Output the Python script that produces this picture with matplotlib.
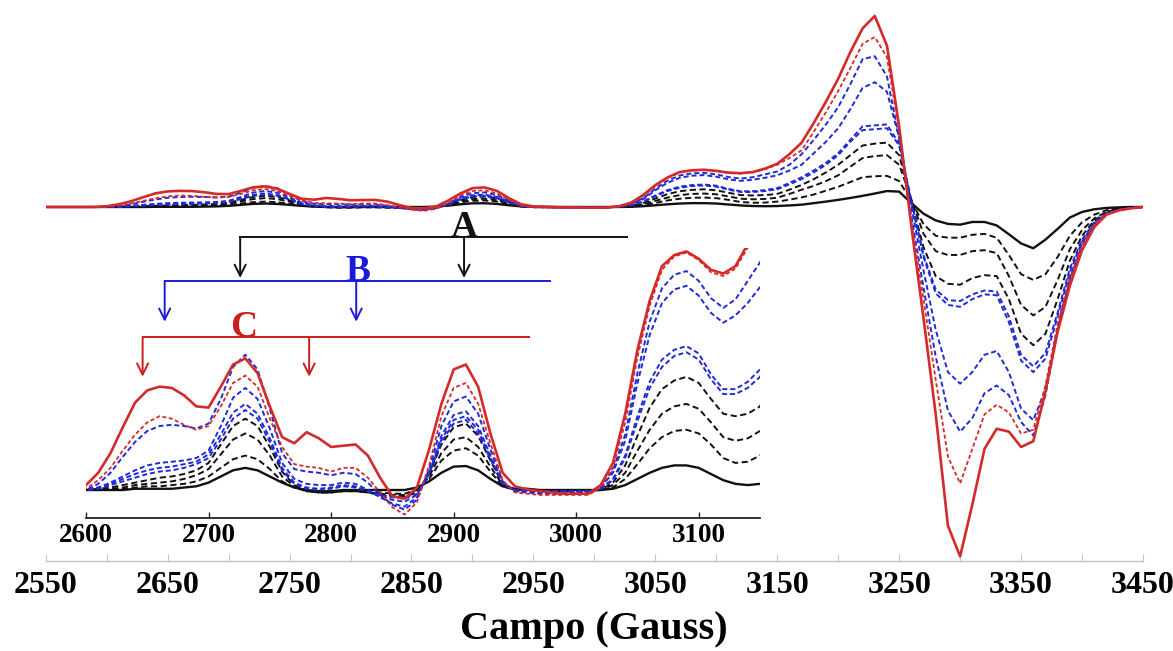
import numpy as np
import matplotlib
matplotlib.use("Agg")
import matplotlib.pyplot as plt

plt.rcParams["font.family"] = ["Liberation Serif", "DejaVu Serif"]
plt.rcParams["font.weight"] = "bold"

# ---------------- data (field in Gauss, intensity in arbitrary units) ----------------
field = np.arange(2550, 3451, 10)

# black solid (lowest)
k0 = [0, 0, 0, 0, 0,
      0, 0, 0, 0, 0.001, 0.001, 0.001, 0.001, 0.002, 0.003, 0.006,
      0.011, 0.016, 0.018, 0.016, 0.011,
      0.006, 0.002, 0.0, -0.001, -0.001, 0.0, 0.0, 0.0, 0.0, 0.0,
      0.0, 0.002, 0.007, 0.014, 0.019, 0.0195, 0.016, 0.009, 0.003, 0.001,
      0.001, 0, 0, 0, 0, 0, 0, 0.001,
      0.004, 0.009, 0.014, 0.018, 0.020, 0.020, 0.018, 0.013, 0.008, 0.005, 0.004, 0.005,
      0.008, 0.012, 0.02, 0.028, 0.037, 0.047, 0.058, 0.07, 0.083, 0.08,
      0.02, -0.035, -0.07, -0.088, -0.092, -0.078, -0.078, -0.096, -0.142, -0.19,
      -0.215, -0.17, -0.114, -0.055, -0.026, -0.012, -0.005, -0.002, 0, 0]

# black dashed
k1 = [0, 0, 0, 0, 0,
      0, 0, 0, 0.001, 0.002, 0.003, 0.003, 0.004, 0.005, 0.007, 0.011,
      0.018, 0.025, 0.028, 0.025, 0.017,
      0.007, 0.002, -0.001, -0.002, -0.002, -0.001, -0.001, -0.002, -0.002, -0.003,
      -0.003, 0.0, 0.009, 0.024, 0.032, 0.034, 0.028, 0.015, 0.003, 0.0,
      0, 0, 0, 0, 0, 0, 0, 0.002,
      0.009, 0.021, 0.034, 0.043, 0.048, 0.049, 0.046, 0.037, 0.026, 0.022, 0.023, 0.028,
      0.038, 0.05, 0.065, 0.085, 0.105, 0.13, 0.155, 0.16, 0.162, 0.135,
      0.03, -0.09, -0.15, -0.16, -0.16, -0.145, -0.14, -0.16, -0.25, -0.35,
      -0.38, -0.35, -0.26, -0.15, -0.08, -0.04, -0.017, -0.007, -0.003, 0]

k2 = [0, 0, 0, 0, 0,
      0, 0, 0.001, 0.002, 0.004, 0.005, 0.006, 0.007, 0.009, 0.012, 0.017,
      0.029, 0.041, 0.046, 0.041, 0.028,
      0.011, 0.003, -0.001, -0.002, -0.002, -0.001, -0.001, -0.002, -0.003, -0.004,
      -0.004, -0.001, 0.011, 0.030, 0.041, 0.043, 0.035, 0.019, 0.004, 0.0,
      0, 0, 0, 0, 0, 0, 0, 0.004,
      0.014, 0.032, 0.049, 0.062, 0.068, 0.070, 0.066, 0.055, 0.043, 0.040, 0.042, 0.048,
      0.068, 0.09, 0.11, 0.135, 0.165, 0.21, 0.255, 0.265, 0.27, 0.22,
      0.04, -0.14, -0.23, -0.25, -0.25, -0.23, -0.225, -0.24, -0.36, -0.51,
      -0.565, -0.52, -0.38, -0.22, -0.12, -0.06, -0.025, -0.01, -0.004, 0]

k3 = [0, 0, 0, 0, 0,
      0, 0.001, 0.002, 0.004, 0.006, 0.008, 0.010, 0.011, 0.013, 0.016, 0.022,
      0.037, 0.052, 0.058, 0.052, 0.035,
      0.015, 0.004, 0.0, -0.002, -0.002, 0.0, 0.0, -0.002, -0.004, -0.005,
      -0.0055, -0.002, 0.013, 0.037, 0.051, 0.054, 0.044, 0.024, 0.005, 0.0,
      0, -0.001, -0.001, -0.001, -0.001, -0.001, 0, 0.006,
      0.020, 0.044, 0.067, 0.082, 0.089, 0.092, 0.087, 0.074, 0.062, 0.060, 0.062, 0.068,
      0.09, 0.115, 0.145, 0.18, 0.22, 0.27, 0.32, 0.33, 0.335, 0.27,
      0.03, -0.21, -0.36, -0.40, -0.405, -0.37, -0.355, -0.36, -0.48, -0.66,
      -0.72, -0.66, -0.48, -0.28, -0.15, -0.07, -0.03, -0.012, -0.005, 0]

# blue dashed
b1 = [0, 0, 0, 0, 0,
      0, 0.001, 0.004, 0.007, 0.010, 0.013, 0.015, 0.016, 0.018, 0.021, 0.026,
      0.041, 0.058, 0.065, 0.058, 0.039,
      0.016, 0.005, 0.001, 0.0, 0.001, 0.003, 0.002, -0.001, -0.004, -0.006,
      -0.007, -0.003, 0.013, 0.039, 0.054, 0.057, 0.046, 0.025, 0.005, 0.0,
      0, -0.001, -0.001, -0.001, -0.001, -0.001, 0.001, 0.008,
      0.026, 0.056, 0.083, 0.100, 0.109, 0.112, 0.106, 0.090, 0.078, 0.078, 0.083, 0.092,
      0.118, 0.145, 0.18, 0.22, 0.27, 0.34, 0.40, 0.405, 0.41, 0.32,
      0.03, -0.25, -0.43, -0.485, -0.49, -0.455, -0.435, -0.44, -0.57, -0.77,
      -0.83, -0.76, -0.55, -0.32, -0.17, -0.08, -0.033, -0.014, -0.005, 0]

b2 = [0, 0, 0, 0, 0,
      0, 0.002, 0.005, 0.009, 0.013, 0.016, 0.018, 0.019, 0.021, 0.023, 0.029,
      0.045, 0.063, 0.070, 0.062, 0.042,
      0.018, 0.006, 0.002, 0.001, 0.002, 0.004, 0.003, -0.001, -0.005, -0.008,
      -0.0095, -0.004, 0.014, 0.041, 0.057, 0.060, 0.049, 0.026, 0.005, 0.0,
      0, -0.001, -0.001, -0.001, -0.001, -0.001, 0.001, 0.009,
      0.028, 0.060, 0.088, 0.106, 0.114, 0.117, 0.111, 0.094, 0.082, 0.082, 0.088, 0.098,
      0.125, 0.155, 0.19, 0.23, 0.28, 0.35, 0.42, 0.425, 0.43, 0.33,
      0.03, -0.26, -0.45, -0.51, -0.52, -0.48, -0.455, -0.46, -0.60, -0.80,
      -0.86, -0.79, -0.57, -0.34, -0.18, -0.085, -0.035, -0.015, -0.006, 0]

b3 = [0, 0, 0, 0, 0,
      0, 0.002, 0.006, 0.011, 0.016, 0.020, 0.022, 0.023, 0.024, 0.026, 0.032,
      0.052, 0.075, 0.083, 0.074, 0.050,
      0.022, 0.009, 0.005, 0.004, 0.004, 0.006, 0.005, 0.0, -0.006, -0.011,
      -0.0135, -0.006, 0.014, 0.044, 0.061, 0.064, 0.052, 0.028, 0.006, -0.001,
      -0.001, -0.002, -0.002, -0.002, -0.002, -0.002, 0.002, 0.014,
      0.040, 0.087, 0.126, 0.152, 0.163, 0.166, 0.158, 0.144, 0.136, 0.142, 0.152, 0.165,
      0.19, 0.22, 0.28, 0.34, 0.41, 0.51, 0.62, 0.65, 0.60, 0.36,
      0.0, -0.33, -0.64, -0.86, -0.92, -0.86, -0.77, -0.75, -0.86, -1.05,
      -1.11, -0.95, -0.63, -0.37, -0.19, -0.088, -0.037, -0.016, -0.006, 0]

b4 = [0, 0, 0, 0, 0,
      0, 0.005, 0.014, 0.027, 0.039, 0.048, 0.052, 0.053, 0.052, 0.050, 0.054,
      0.074, 0.100, 0.110, 0.098, 0.066,
      0.030, 0.017, 0.015, 0.014, 0.012, 0.014, 0.013, 0.006, -0.004, -0.012,
      -0.016, -0.008, 0.017, 0.052, 0.072, 0.076, 0.062, 0.033, 0.007, -0.001,
      -0.002, -0.003, -0.003, -0.003, -0.003, -0.003, 0.002, 0.016,
      0.045, 0.095, 0.137, 0.164, 0.175, 0.178, 0.170, 0.156, 0.148, 0.155, 0.170, 0.185,
      0.22, 0.275, 0.35, 0.43, 0.52, 0.64, 0.77, 0.785, 0.68, 0.36,
      -0.05, -0.42, -0.78, -1.06, -1.17, -1.10, -0.97, -0.93, -0.98, -1.12,
      -1.19, -0.98, -0.64, -0.38, -0.20, -0.09, -0.038, -0.016, -0.006, 0]

# red dashed
r1 = [0, 0, 0, 0, 0,
      0.001, 0.008, 0.018, 0.032, 0.045, 0.055, 0.060, 0.058, 0.053, 0.049, 0.052,
      0.068, 0.087, 0.093, 0.084, 0.058,
      0.035, 0.021, 0.019, 0.018, 0.015, 0.018, 0.018, 0.010, -0.002, -0.014,
      -0.020, -0.010, 0.020, 0.060, 0.083, 0.087, 0.070, 0.038, 0.008, -0.002,
      -0.003, -0.004, -0.004, -0.004, -0.004, -0.004, 0.002, 0.018,
      0.055, 0.108, 0.150, 0.179, 0.190, 0.193, 0.187, 0.177, 0.174, 0.180, 0.197, 0.22,
      0.255, 0.295, 0.392, 0.494, 0.604, 0.724, 0.85, 0.885, 0.78, 0.40,
      -0.08, -0.48, -0.90, -1.30, -1.44, -1.26, -1.08, -1.03, -1.07, -1.18,
      -1.16, -0.93, -0.61, -0.37, -0.20, -0.092, -0.037, -0.016, -0.006, 0]

# red solid (highest)
r2 = [0, 0, 0, 0, 0,
      0.004, 0.014, 0.030, 0.051, 0.071, 0.081, 0.084, 0.083, 0.077, 0.068, 0.067,
      0.084, 0.102, 0.107, 0.095, 0.068,
      0.043, 0.038, 0.047, 0.042, 0.035, 0.036, 0.037, 0.028, 0.010, -0.005,
      -0.007, 0.002, 0.033, 0.070, 0.098, 0.102, 0.084, 0.046, 0.014, 0.003,
      0.0005, -0.001, -0.002, -0.003, -0.003, -0.003, 0.004, 0.022,
      0.062, 0.114, 0.154, 0.182, 0.191, 0.194, 0.188, 0.179, 0.176, 0.182, 0.200, 0.225,
      0.275, 0.335, 0.438, 0.549, 0.668, 0.807, 0.93, 0.995, 0.84, 0.42,
      -0.10, -0.58, -1.08, -1.66, -1.82, -1.55, -1.26, -1.155, -1.17, -1.25,
      -1.22, -0.96, -0.65, -0.41, -0.225, -0.105, -0.04, -0.018, -0.007, 0]

main_ticks = list(range(2550, 3451, 50))
main_labels = [str(t) if (t - 2550) % 100 == 0 else "" for t in main_ticks]
inset_ticks = [2600, 2700, 2800, 2900, 3000, 3100]
inset_labels = ["2600", "2700", "2800", "2900", "3000", "3100"]

# bracket annotations (inset data coordinates)
bracket_names = ["A", "B", "C"]
bracket_start = [2725.8, 2664.2, 2646.2]
bracket_end = [3041.5, 2979.0, 2961.8]
bracket_level = [0.2057, 0.1699, 0.1246]
arrow_tip = [0.1724, 0.1368, 0.0921]
arrow_pos = [[2725.8, 2908.5], [2664.2, 2820.5], [2646.2, 2782.1]]
label_pos = [2908.7, 2822.0, 2728.6]

# ---------------- styles ----------------
BLACK = "#111111"
BLUE = "#1f2bd6"
RED = "#d42a2a"
series = [
    (k0, BLACK, None, 1.7),
    (k1, BLACK, (3.2, 1.8), 1.4),
    (k2, BLACK, (3.2, 1.8), 1.4),
    (k3, BLACK, (3.2, 1.8), 1.4),
    (b1, BLUE, (2.6, 1.5), 1.4),
    (b2, BLUE, (2.6, 1.5), 1.4),
    (b3, BLUE, (2.6, 1.5), 1.4),
    (b4, BLUE, (2.6, 1.5), 1.4),
    (r1, RED, (2.2, 1.4), 1.3),
    (r2, RED, None, 1.9),
]

fig = plt.figure(figsize=(11.73, 6.51), dpi=100)

# ---------------- main axes ----------------
ax = fig.add_axes([0.03896, 0.13825, 0.93546, 0.86175])
ax.patch.set_alpha(0)
for data, col, dash, lw in series:
    line, = ax.plot(field, data, color=col, lw=lw)
    if dash is not None:
        line.set_dashes(dash)
ax.set_xlim(2550, 3450)
ax.set_ylim(-1.84375, 1.078)
for s in ["top", "right", "left"]:
    ax.spines[s].set_visible(False)
ax.spines["bottom"].set_color("#c4c4c4")
ax.spines["bottom"].set_linewidth(1.0)
ax.set_yticks([])
ax.set_xticks(main_ticks)
ax.set_xticklabels(main_labels)
ax.tick_params(axis="x", direction="in", length=5, width=0.8, color="#c4c4c4",
               pad=7.5, labelsize=23)
for lab in ax.get_xticklabels():
    lab.set_fontweight("bold")

fig.text(594 / 1173, 1 - 639 / 651, "Campo (Gauss)", ha="center", va="baseline",
         fontsize=29, fontweight="bold")

# ---------------- inset axes ----------------
ax2 = fig.add_axes([0.07332, 0.20430, 0.57459, 0.41475])
ax2.patch.set_alpha(0)
for data, col, dash, lw in series:
    line, = ax2.plot(field, data, color=col, lw=lw)
    if dash is not None:
        line.set_dashes(dash)
ax2.set_xlim(2600, 3150)
ax2.set_ylim(-0.02276, 0.19675)
for s in ["top", "right", "left"]:
    ax2.spines[s].set_visible(False)
ax2.spines["bottom"].set_color("#222222")
ax2.spines["bottom"].set_linewidth(1.3)
ax2.set_yticks([])
ax2.set_xticks(inset_ticks)
ax2.set_xticklabels(inset_labels)
ax2.tick_params(axis="x", direction="in", length=4, width=1.0, color="#222222",
                pad=3.5, labelsize=19.5)
for lab in ax2.get_xticklabels():
    lab.set_fontweight("bold")

bracket_colors = [BLACK, "#1a1ad8", "#c81e1e"]
for name, x0, x1, yl, yt, xs, xl, col in zip(bracket_names, bracket_start, bracket_end,
                                              bracket_level, arrow_tip, arrow_pos,
                                              label_pos, bracket_colors):
    ax2.plot([x0, x1], [yl, yl], color=col, lw=1.4, clip_on=False)
    for xa in xs:
        ax2.annotate("", xy=(xa, yt), xytext=(xa, yl),
                     arrowprops=dict(arrowstyle="->", color=col, lw=1.4,
                                     shrinkA=0, shrinkB=0, mutation_scale=20),
                     annotation_clip=False)
    ax2.text(xl, yl, name, ha="center", va="baseline", fontsize=27,
             fontweight="bold", color=col, clip_on=False)

fig.savefig("out.png", dpi=100)
